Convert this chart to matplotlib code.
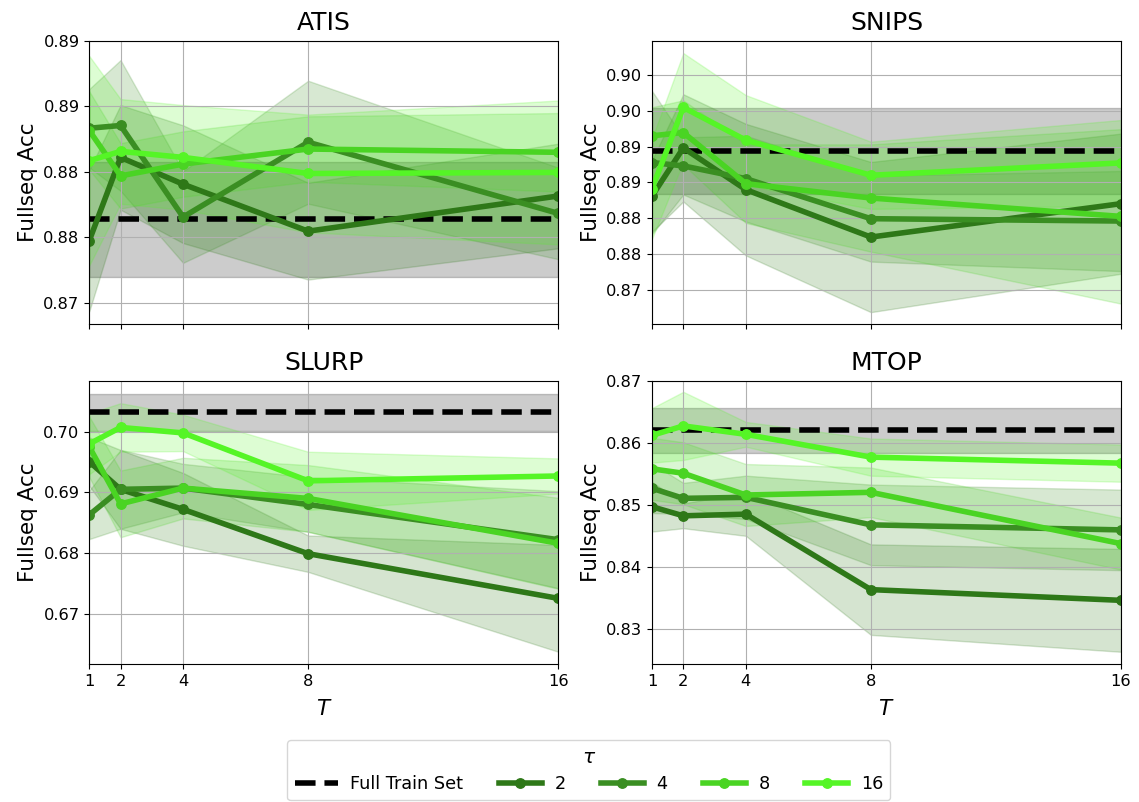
import matplotlib
matplotlib.use("Agg")
import matplotlib.pyplot as plt
from matplotlib.ticker import MultipleLocator, FormatStrFormatter
import numpy as np

T = [1, 2, 4, 8, 16]
taus = ["2", "4", "8", "16"]
colors = ["#2e7818", "#3a8e22", "#4ad423", "#55f526"]
datasets = ["ATIS", "SNIPS", "SLURP", "MTOP"]

# Full train set baseline (mean, std)
full_mean = {"ATIS": 0.87636, "SNIPS": 0.88939, "SLURP": 0.70319, "MTOP": 0.86204}
full_std = {"ATIS": 0.0044, "SNIPS": 0.0060, "SLURP": 0.0031, "MTOP": 0.0036}

# Means per tau (rows: tau=2,4,8,16; cols: T=1,2,4,8,16)
atis_mean = [
    [0.87474, 0.88110, 0.87905, 0.87546, 0.87815],
    [0.88333, 0.88354, 0.87654, 0.88226, 0.87682],
    [0.88315, 0.87969, 0.88059, 0.88174, 0.88149],
    [0.88085, 0.88156, 0.88110, 0.87987, 0.87995],
]
atis_std = [
    [0.0054, 0.0040, 0.0045, 0.0037, 0.0040],
    [0.0030, 0.0050, 0.0035, 0.0047, 0.0035],
    [0.0030, 0.0025, 0.0025, 0.0025, 0.0030],
    [0.0080, 0.0040, 0.0040, 0.0045, 0.0055],
]
snips_mean = [
    [0.88308, 0.88981, 0.88397, 0.87734, 0.88201],
    [0.88776, 0.88729, 0.88551, 0.87991, 0.87958],
    [0.89150, 0.89196, 0.88481, 0.88280, 0.88023],
    [0.88411, 0.89547, 0.89089, 0.88598, 0.88771],
]
snips_std = [
    [0.0050, 0.0075, 0.0092, 0.0105, 0.0098],
    [0.0100, 0.0040, 0.0060, 0.0060, 0.0070],
    [0.0040, 0.0045, 0.0055, 0.0075, 0.0122],
    [0.0070, 0.0076, 0.0063, 0.0047, 0.0060],
]
slurp_mean = [
    [0.69505, 0.69049, 0.68720, 0.67989, 0.67253],
    [0.68630, 0.69050, 0.69070, 0.68800, 0.68220],
    [0.69750, 0.68810, 0.69070, 0.68900, 0.68160],
    [0.69800, 0.70070, 0.69980, 0.69190, 0.69270],
]
slurp_std = [
    [0.0040, 0.0065, 0.0060, 0.0030, 0.0088],
    [0.0040, 0.0065, 0.0040, 0.0045, 0.0080],
    [0.0050, 0.0055, 0.0050, 0.0055, 0.0075],
    [0.0050, 0.0040, 0.0030, 0.0048, 0.0029],
]
mtop_mean = [
    [0.84970, 0.84824, 0.84851, 0.83633, 0.83460],
    [0.85268, 0.85106, 0.85122, 0.84678, 0.84597],
    [0.85582, 0.85511, 0.85160, 0.85203, 0.84375],
    [0.86123, 0.86275, 0.86139, 0.85771, 0.85674],
]
mtop_std = [
    [0.0040, 0.0020, 0.0035, 0.0073, 0.0083],
    [0.0040, 0.0025, 0.0035, 0.0065, 0.0065],
    [0.0050, 0.0050, 0.0050, 0.0040, 0.0042],
    [0.0044, 0.0055, 0.0020, 0.0030, 0.0030],
]

means = {"ATIS": atis_mean, "SNIPS": snips_mean, "SLURP": slurp_mean, "MTOP": mtop_mean}
stds = {"ATIS": atis_std, "SNIPS": snips_std, "SLURP": slurp_std, "MTOP": mtop_std}
ylims = {"ATIS": (0.86834, 0.8900), "SNIPS": (0.86514, 0.90476),
         "SLURP": (0.66166, 0.70836), "MTOP": (0.82428, 0.8700)}
ysteps = {"ATIS": 0.005, "SNIPS": 0.005, "SLURP": 0.01, "MTOP": 0.01}

fig, axes = plt.subplots(2, 2, figsize=(11.39, 8.02), dpi=100, sharex=True)
fig.subplots_adjust(left=0.0784, right=0.9842, top=0.9489, bottom=0.1717,
                    wspace=0.2, hspace=0.2)

handles = []
for ax, name in zip(axes.flat, datasets):
    fm, fs = full_mean[name], full_std[name]
    ax.fill_between([T[0], T[-1]], fm - fs, fm + fs, color="black", alpha=0.2)
    h0, = ax.plot([T[0], T[-1]], [fm, fm], color="black", ls="--", lw=4,
                  label="Full Train Set")
    hs = [h0]
    for i, tau in enumerate(taus):
        m = np.array(means[name][i])
        s = np.array(stds[name][i])
        ax.fill_between(T, m - s, m + s, color=colors[i], alpha=0.2)
        h, = ax.plot(T, m, color=colors[i], lw=4, marker="o", markersize=6.8,
                     label=tau)
        hs.append(h)
    if not handles:
        handles = hs
    ax.set_title(name, fontsize=18, pad=8)
    ax.set_ylabel("Fullseq Acc", fontsize=15.5)
    ax.set_xlim(T[0], T[-1])
    ax.set_xticks(T)
    ax.set_xticklabels([str(t) for t in T])
    ax.set_ylim(*ylims[name])
    ax.yaxis.set_major_locator(MultipleLocator(ysteps[name]))
    ax.yaxis.set_major_formatter(FormatStrFormatter("%.2f"))
    ax.tick_params(labelsize=11.7)
    ax.grid(True, color="#b0b0b0", lw=0.8)

for ax in axes[1]:
    ax.set_xlabel("$T$", fontsize=15.5, labelpad=7)

fig.legend(handles, [h.get_label() for h in handles], loc="lower center",
           bbox_to_anchor=(0.517, -0.009), ncol=5, title=r"$\tau$",
           fontsize=12.7, title_fontsize=14.5, handlelength=2.44,
           handletextpad=0.72)

fig.savefig("out.png", dpi=100)
